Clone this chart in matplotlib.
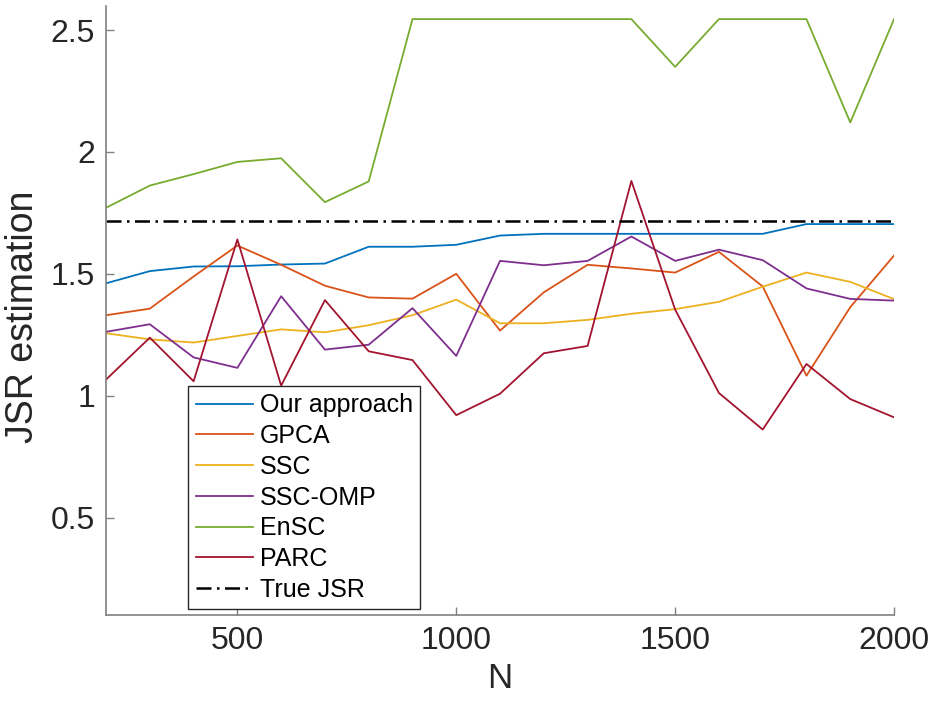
import matplotlib
matplotlib.use("Agg")
import matplotlib.pyplot as plt

# sample sizes on the x axis
N = [200, 300, 400, 500, 600, 700, 800, 900, 1000, 1100,
     1200, 1300, 1400, 1500, 1600, 1700, 1800, 1900, 2000]

# JSR estimates
ours = [1.461, 1.511, 1.530, 1.531, 1.538, 1.542, 1.611, 1.611, 1.619, 1.657,
        1.664, 1.664, 1.664, 1.664, 1.664, 1.664, 1.704, 1.704, 1.704]
gpca = [1.330, 1.357, 1.489, 1.616, 1.537, 1.451, 1.403, 1.398, 1.500, 1.267,
        1.424, 1.537, 1.522, 1.505, 1.590, 1.448, 1.082, 1.363, 1.575]
ssc = [1.256, 1.231, 1.218, 1.245, 1.272, 1.260, 1.289, 1.330, 1.394, 1.297,
       1.297, 1.311, 1.336, 1.355, 1.385, 1.447, 1.505, 1.467, 1.396]
sscOmp = [1.262, 1.293, 1.157, 1.114, 1.408, 1.189, 1.209, 1.359, 1.163, 1.553,
          1.535, 1.553, 1.653, 1.553, 1.599, 1.556, 1.440, 1.397, 1.390]
ensc = [1.771, 1.862, 1.909, 1.959, 1.974, 1.794, 1.879, 2.545, 2.545, 2.545,
        2.545, 2.545, 2.545, 2.349, 2.545, 2.545, 2.545, 2.121, 2.545]
parc = [1.066, 1.238, 1.059, 1.641, 1.041, 1.392, 1.182, 1.146, 0.920, 1.008,
        1.174, 1.204, 1.881, 1.353, 1.011, 0.861, 1.130, 0.986, 0.911]
trueJsr = 1.716

plt.rcParams["font.family"] = ["Liberation Sans", "DejaVu Sans"]

fig = plt.figure(figsize=(9.31, 7.04), dpi=100)
ax = fig.add_axes([0.1139, 0.1264, 0.8464, 0.8655])

lw = 1.3
ax.plot(N, ours, color="#0072BD", lw=lw, label="Our approach")
ax.plot(N, gpca, color="#D95319", lw=lw, label="GPCA")
ax.plot(N, ssc, color="#EDB120", lw=lw, label="SSC")
ax.plot(N, sscOmp, color="#7E2F8E", lw=lw, label="SSC-OMP")
ax.plot(N, ensc, color="#77AC30", lw=lw, label="EnSC")
ax.plot(N, parc, color="#A2142F", lw=lw, label="PARC")
ax.plot([N[0], N[-1]], [trueJsr, trueJsr], color="black", lw=1.8,
        dashes=(6, 2.2, 1, 2.2), label="True JSR")

ax.set_xlim(200, 2000)
ax.set_ylim(0.1, 2.6)
ax.set_xticks([500, 1000, 1500, 2000])
ax.set_yticks([0.5, 1, 1.5, 2, 2.5])
ax.set_yticklabels(["0.5", "1", "1.5", "2", "2.5"])

for side in ("top", "right"):
    ax.spines[side].set_visible(False)
for side in ("left", "bottom"):
    ax.spines[side].set_color("#808080")
    ax.spines[side].set_linewidth(1.2)
ax.tick_params(direction="in", length=6, width=1, color="#808080",
               labelsize=23, labelcolor="#262626", pad=8)

ax.set_xlabel("N", fontsize=25, color="#262626", labelpad=4)
ax.set_ylabel("JSR estimation", fontsize=27, color="#262626")
ax.yaxis.set_label_coords(-0.082, 0.49)

leg = ax.legend(loc="lower left", bbox_to_anchor=(0.1044, 0.0094), borderaxespad=0,
                fontsize=18, frameon=True, fancybox=False, framealpha=1,
                handlelength=2.3, handletextpad=0.25, labelspacing=0.27, borderpad=0.3)
leg.get_frame().set_edgecolor("#262626")
leg.get_frame().set_linewidth(1.0)

fig.savefig("out.png", dpi=100)
